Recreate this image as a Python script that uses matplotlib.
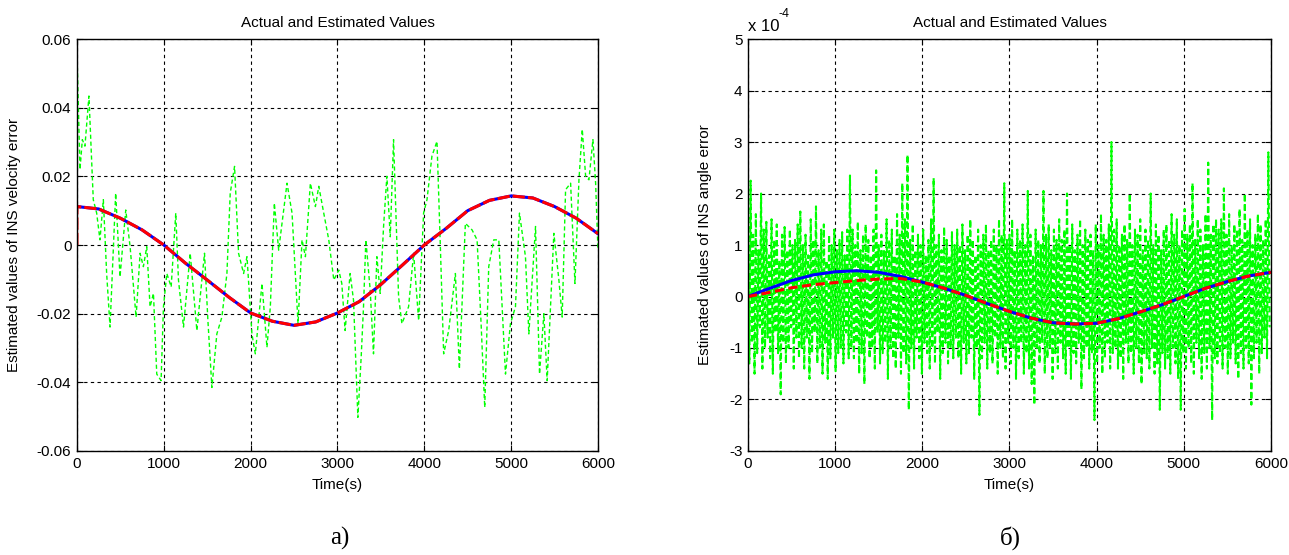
import matplotlib
matplotlib.use("Agg")
import matplotlib.pyplot as plt
import numpy as np

plt.rcParams["font.family"] = ["Liberation Sans", "DejaVu Sans"]
plt.rcParams["axes.unicode_minus"] = False

# panel a) velocity error
vel_t = np.arange(0, 6001, 250)
vel_actual = [0.0112, 0.0105, 0.0078, 0.0044, 0.0, -0.0053, -0.0102, -0.0152, -0.0198, -0.0222,
              -0.0234, -0.0224, -0.0198, -0.0165, -0.0115, -0.0058, 0.0, 0.0048, 0.0100, 0.0130,
              0.0143, 0.0137, 0.0112, 0.0078, 0.0033]
vel_est_start = 0.0

vel_noise_t = [0, 35, 62, 92, 138, 188, 227, 265, 304, 342, 381, 446, 496, 562, 612, 681, 727, 765,
               804, 842, 881, 919, 969, 996, 1035, 1085, 1138, 1169, 1227, 1304, 1381, 1469, 1508,
               1554, 1611, 1669, 1727, 1765, 1815, 1861, 1919, 1958, 2015, 2054, 2131, 2188, 2227,
               2273, 2323, 2419, 2477, 2546, 2592, 2631, 2688, 2746, 2785, 2842, 2900, 2958, 3015,
               3050, 3088, 3146, 3185, 3235, 3273, 3300, 3327, 3377, 3415, 3454, 3492, 3531, 3569,
               3608, 3646, 3704, 3742, 3819, 3877, 3935, 3992, 4031, 4088, 4146, 4185, 4223, 4281,
               4358, 4404, 4473, 4550, 4608, 4654, 4696, 4742, 4800, 4858, 4935, 4992, 5050, 5096,
               5165, 5204, 5281, 5327, 5377, 5415, 5492, 5550, 5588, 5627, 5685, 5735, 5781, 5819,
               5858, 5896, 5942, 5973, 6000]
vel_noise = [0.0561, 0.0220, 0.0307, 0.0288, 0.0434, 0.0132, 0.0093, 0.0015, 0.0132, -0.0083,
             -0.0239, 0.0151, -0.0093, 0.0102, -0.0005, -0.0210, -0.0024, -0.0063, -0.0005, -0.0180,
             -0.0141, -0.0376, -0.0395, -0.0180, -0.0083, -0.0122, 0.0093, -0.0102, -0.0239, -0.0024,
             -0.0249, -0.0024, -0.0220, -0.0415, -0.0259, -0.0210, -0.0083, 0.0151, 0.0229, -0.0024,
             -0.0083, -0.0034, -0.0259, -0.0317, -0.0112, -0.0298, -0.0180, 0.0122, -0.0015, 0.0180,
             0.0093, -0.0229, 0.0015, -0.0034, 0.0180, 0.0112, 0.0171, 0.0093, 0.0015, -0.0102,
             -0.0073, -0.0112, -0.0249, -0.0083, -0.0161, -0.0502, -0.0327, -0.0180, 0.0015, -0.0132,
             -0.0317, -0.0034, -0.0141, 0.0054, 0.0200, 0.0024, 0.0307, -0.0151, -0.0229, -0.0180,
             -0.0024, -0.0220, 0.0093, 0.0132, 0.0259, 0.0302, -0.0005, -0.0317, -0.0249, -0.0083,
             -0.0361, 0.0063, 0.0044, 0.0015, -0.0229, -0.0473, -0.0063, 0.0015, 0.0015, -0.0376,
             -0.0229, -0.0180, 0.0093, -0.0034, -0.0259, 0.0054, -0.0376, -0.0200, -0.0395, 0.0034,
             -0.0102, -0.0210, 0.0161, 0.0180, -0.0112, 0.0190, 0.0337, 0.0200, 0.0190, 0.0307,
             0.0180, -0.0015]

# panel б) angle error, units of 1e-4
ang_t = np.arange(0, 6001, 250)
ang_actual = [0.0, 0.16, 0.31, 0.42, 0.48, 0.50, 0.47, 0.39, 0.28, 0.16, 0.02, -0.14, -0.29,
              -0.42, -0.51, -0.535, -0.52, -0.43, -0.30, -0.16, 0.0, 0.16, 0.29, 0.40, 0.47]
ang_est = [0.0, 0.08, 0.17, 0.23, 0.27, 0.31, 0.34, 0.35, 0.28, 0.16, 0.02, -0.14, -0.29,
           -0.42, -0.51, -0.535, -0.52, -0.43, -0.30, -0.16, 0.0, 0.16, 0.29, 0.40, 0.47]

ang_peaks = [1.8, 2.25, 1.2, 1.6, 0.9, 2.0, 1.3, 1.45, 0.8, 1.5, 1.1, 1.4, 0.7, 1.2, 1.35, 0.9, 1.3, 1.0, 1.1, 1.4,
             1.65, 1.0, 1.2, 0.8, 1.5, 1.1, 1.75, 0.9, 1.3, 1.4, 0.7, 1.2, 1.0, 1.3, 0.9, 1.1, 1.25, 0.8, 1.3, 2.35,
             1.3, 1.0, 1.45, 0.9, 1.2, 1.4, 1.1, 0.8, 1.3, 2.45, 1.0, 1.2, 0.9, 1.5, 1.1, 1.3, 0.8, 1.6, 1.2, 2.2,
             1.5, 2.75, 1.1, 1.4, 0.9, 1.2, 1.0, 1.3, 0.8, 1.1, 1.5, 2.3, 1.0, 1.2, 0.9, 1.35, 1.1, 0.8, 1.25, 1.0,
             1.3, 1.0, 1.4, 0.9, 1.2, 1.5, 1.1, 0.8, 1.3, 1.0, 1.2, 1.4, 0.9, 1.1, 1.3, 1.0, 1.5, 1.2, 2.2, 1.1,
             1.2, 1.5, 0.9, 1.3, 1.1, 1.4, 1.0, 2.05, 1.2, 0.8, 1.3, 1.1, 1.0, 2.05, 1.2, 1.4, 0.9, 1.3, 1.1, 1.5,
             1.1, 1.3, 2.0, 1.0, 1.4, 0.9, 1.2, 1.5, 1.0, 1.3, 1.1, 1.2, 0.9, 1.4, 1.0, 1.6, 1.2, 1.1, 1.4, 3.0,
             1.3, 1.5, 1.0, 1.2, 1.4, 1.1, 2.0, 1.0, 1.3, 1.2, 1.5, 0.9, 1.3, 1.1, 2.0, 1.0, 1.4, 1.2, 0.9, 1.3,
             1.4, 1.1, 1.6, 1.2, 1.5, 1.0, 1.3, 1.7, 1.2, 1.4, 2.2, 1.1, 1.5, 1.3, 1.0, 1.6, 2.6, 1.2, 1.4, 1.5,
             1.3, 1.5, 2.1, 1.2, 1.6, 1.0, 1.4, 1.3, 1.7, 1.1, 2.0, 1.3, 1.5, 1.0, 1.2, 1.6, 1.4, 1.1, 1.5, 2.8]
ang_troughs = [-1.3, -0.9, -1.5, -1.1, -0.6, -1.4, -1.0, -0.8, -1.2, -1.5, -0.7, -1.1, -1.9, -0.9, -1.3, -1.0, -0.6, -1.4, -0.8, -1.2,
               -1.0, -1.4, -0.8, -1.6, -1.1, -0.7, -1.3, -1.0, -1.5, -0.9, -1.6, -1.2, -0.8, -1.45, -1.1, -1.0, -1.3, -0.7, -1.2, -1.0,
               -1.2, -0.9, -1.5, -1.1, -1.7, -0.8, -1.2, -1.0, -1.4, -0.7, -1.3, -1.1, -0.9, -1.6, -1.0, -1.2, -1.4, -0.8, -1.5, -1.1,
               -1.3, -2.2, -1.0, -1.4, -0.8, -1.2, -1.5, -0.9, -1.1, -1.4, -1.0, -1.3, -0.7, -1.6, -1.1, -0.9, -1.3, -1.0, -1.2, -0.8,
               -1.2, -1.5, -0.9, -1.3, -1.1, -0.8, -1.6, -1.0, -2.3, -1.2, -0.9, -1.4, -1.1, -1.3, -0.8, -1.5, -1.0, -1.2, -1.4, -0.9,
               -1.3, -1.0, -1.6, -1.2, -0.9, -1.5, -1.1, -1.4, -1.7, -2.1, -1.0, -1.3, -0.9, -1.5, -1.2, -1.0, -1.6, -1.1, -1.4, -0.9,
               -1.2, -1.5, -1.0, -1.6, -1.1, -1.3, -0.9, -1.8, -1.2, -1.0, -1.4, -1.1, -2.4, -1.3, -1.0, -1.5, -1.2, -0.9, -1.4, -1.1,
               -1.0, -1.4, -1.2, -1.6, -0.9, -1.3, -1.1, -1.5, -1.0, -1.3, -1.7, -1.1, -1.2, -1.4, -1.0, -1.5, -1.3, -2.2, -1.1, -1.4,
               -1.2, -1.5, -1.0, -1.3, -1.6, -2.2, -1.1, -1.4, -1.0, -1.3, -1.5, -0.9, -1.2, -1.6, -1.1, -1.4, -1.0, -2.4, -1.2, -1.3,
               -1.1, -1.4, -1.0, -1.5, -1.2, -0.9, -1.3, -1.6, -1.1, -1.4, -1.0, -1.3, -2.1, -1.2, -0.9, -1.5, -1.1, -0.8, -1.2, -0.6]

GREEN, BLUE, RED = "#00ff00", "#0000ff", "#ff0000"


def style_axes(ax, ylabel, ylim, yticks, ylabel_x):
    ax.set_xlim(0, 6000)
    ax.set_ylim(*ylim)
    ax.set_xticks(range(0, 6001, 1000))
    ax.set_yticks(yticks)
    ax.grid(True, color="k", linestyle=(0, (3, 3)), linewidth=0.8)
    ax.set_axisbelow(True)
    ax.tick_params(direction="in", length=4, top=True, right=True, labelsize=11, pad=4)
    for s in ax.spines.values():
        s.set_linewidth(1.0)
    ax.set_title("Actual and Estimated Values", fontsize=11, pad=9)
    ax.set_xlabel("Time(s)", fontsize=11)
    ax.xaxis.set_label_coords(0.5, -0.065)
    ax.set_ylabel(ylabel, fontsize=11)
    ax.yaxis.set_label_coords(ylabel_x, 0.5)


fig = plt.figure(figsize=(12.89, 5.55), dpi=100)
ax1 = fig.add_axes([0.0597, 0.1874, 0.4042, 0.7423])
ax2 = fig.add_axes([0.5803, 0.1874, 0.4057, 0.7423])

# a)
ax1.plot(vel_noise_t, vel_noise, color=GREEN, lw=1.0, ls=(0, (3, 2)))
ax1.plot(vel_t, vel_actual, color=BLUE, lw=2.2)
ax1.plot(np.r_[0, vel_t], np.r_[vel_est_start, vel_actual], color=RED, lw=2.2, ls=(0, (4, 1)))
style_axes(ax1, "Estimated values of INS velocity error", (-0.06, 0.06),
           [-0.06, -0.04, -0.02, 0, 0.02, 0.04, 0.06], -0.107)
ax1.set_yticklabels(["-0.06", "-0.04", "-0.02", "0", "0.02", "0.04", "0.06"])

# б)
noise_t = np.arange(len(ang_peaks) * 2) * 15
noise_v = np.ravel(np.column_stack([ang_peaks, ang_troughs]))
ax2.plot(noise_t, noise_v, color=GREEN, lw=1.5, ls=(0, (3, 1.5)))
ax2.plot(ang_t, ang_actual, color=BLUE, lw=2.2)
ax2.plot(ang_t, ang_est, color=RED, lw=2.2, ls=(0, (3, 1.5)))
style_axes(ax2, "Estimated values of INS angle error", (-3, 5), range(-3, 6), -0.068)
ax2.text(0.0, 1.012, "x 10", transform=ax2.transAxes, fontsize=12, ha="left", va="bottom")
ax2.text(0.058, 1.045, "-4", transform=ax2.transAxes, fontsize=9, ha="left", va="bottom")

fig.text(0.264, 0.018, "а)", fontsize=18, family=["Liberation Serif", "DejaVu Serif"], ha="center")
fig.text(0.784, 0.018, "б)", fontsize=18, family=["Liberation Serif", "DejaVu Serif"], ha="center")

fig.savefig("out.png", dpi=100)
